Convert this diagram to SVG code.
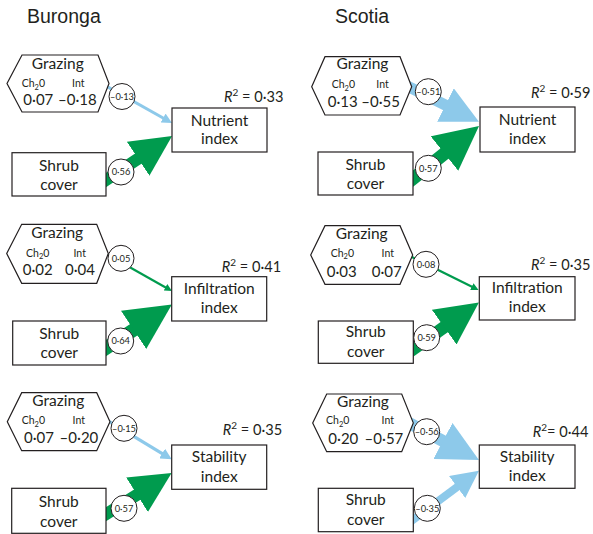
<svg xmlns="http://www.w3.org/2000/svg" width="593" height="534" viewBox="0 0 593 534">
<style>
.hex,.box{fill:#fff;stroke:#231f20;stroke-width:1.2}
.ring{fill:#fff;stroke:#231f20;stroke-width:1}
text{font-family:Lato,"Liberation Sans",sans-serif;fill:#231f20}
.lbl{font-size:15.5px;text-anchor:middle}
.num{font-size:15px}
.sm{font-size:10.5px}
.mid{text-anchor:middle}
.end{text-anchor:end}
.cv{font-size:9.3px;text-anchor:middle}
.r2{font-size:14.6px}
.title{font-family:"Liberation Sans",Arial,sans-serif;font-size:19.5px}
.pos{stroke:#009b4e;fill:none}
.neg{stroke:#8dc9ea;fill:none}
</style>
<defs>
<marker id="ag" viewBox="0 0 10 10" refX="1" refY="5" markerWidth="3.4" markerHeight="3.4" orient="auto" markerUnits="strokeWidth"><path d="M0,0L10,5L0,10z" fill="#009b4e"/></marker>
<marker id="ab" viewBox="0 0 10 10" refX="1" refY="5" markerWidth="3.4" markerHeight="3.4" orient="auto" markerUnits="strokeWidth"><path d="M0,0L10,5L0,10z" fill="#8dc9ea"/></marker>
</defs>

<text class="title" x="27" y="23">Buronga</text>
<text class="title" x="335" y="23">Scotia</text>

<g id="connectors">
<line class="neg" x1="101" y1="83.1" x2="164" y2="118.5" stroke-width="3" marker-end="url(#ab)"/>
<line class="pos" x1="100" y1="184" x2="141.5" y2="156.4" stroke-width="12" marker-end="url(#ag)"/>
<line class="neg" x1="396.6" y1="80.8" x2="448.8" y2="106.7" stroke-width="11" marker-end="url(#ab)"/>
<line class="pos" x1="405" y1="185" x2="447.9" y2="150.8" stroke-width="13" marker-end="url(#ag)"/>
<line class="pos" x1="101" y1="251" x2="166.1" y2="287.7" stroke-width="2.2" marker-end="url(#ag)"/>
<line class="pos" x1="100" y1="352" x2="137.4" y2="327.3" stroke-width="13.5" marker-end="url(#ag)"/>
<line class="pos" x1="404.8" y1="253.4" x2="472.5" y2="287" stroke-width="2.2" marker-end="url(#ag)"/>
<line class="pos" x1="405" y1="355" x2="447.7" y2="324.7" stroke-width="12.5" marker-end="url(#ag)"/>
<line class="neg" x1="103.2" y1="417.9" x2="163.1" y2="454.1" stroke-width="3.3" marker-end="url(#ab)"/>
<line class="pos" x1="100" y1="518" x2="140.5" y2="492.6" stroke-width="12" marker-end="url(#ag)"/>
<line class="neg" x1="397.7" y1="417" x2="446.5" y2="442.9" stroke-width="12" marker-end="url(#ab)"/>
<line class="neg" x1="410" y1="522" x2="459.3" y2="485.4" stroke-width="8" marker-end="url(#ab)"/>
</g>

<!-- Buronga: Nutrient -->
<g id="b-grazing-nutrient">
<polygon class="hex" points="22,55 98,55 109,83.5 98,112 22,112 7,83.5"/>
<text class="lbl" x="57.8" y="69.3">Grazing</text>
<text class="sm" x="21.7" y="87">Ch<tspan font-size="7.5" dy="2.5">2</tspan><tspan dy="-2.5">0</tspan></text>
<text class="sm mid" x="78.3" y="87">Int</text>
<text class="num" x="23.3" y="105">0·07</text>
<text class="num end" x="96.7" y="105">–0·18</text>
</g>
<g id="b-shrub-nutrient">
<rect class="box" x="12" y="152.7" width="94" height="43.3"/>
<text class="lbl" x="59" y="170.7">Shrub</text>
<text class="lbl" x="59" y="190">cover</text>
</g>
<g id="b-nutrient">
<rect class="box" x="172" y="108" width="95" height="44"/>
<text class="lbl" x="219.5" y="126">Nutrient</text>
<text class="lbl" x="219.5" y="144">index</text>
<text class="r2" x="224" y="101.7"><tspan font-style="italic">R</tspan><tspan font-size="10" dy="-6">2</tspan><tspan dy="6"> = 0·33</tspan></text>
</g>

<!-- Scotia: Nutrient -->
<g id="s-grazing-nutrient">
<polygon class="hex" points="325,56.7 400,56.7 411.7,86.7 400,115 325,115 311.7,86.7"/>
<text class="lbl" x="362.5" y="69.3">Grazing</text>
<text class="sm" x="331.7" y="88.3">Ch<tspan font-size="7.5" dy="2.5">2</tspan><tspan dy="-2.5">0</tspan></text>
<text class="sm mid" x="382.5" y="88.3">Int</text>
<text class="num" x="327.7" y="106.7">0·13</text>
<text class="num end" x="400" y="106.7">–0·55</text>
</g>
<g id="s-shrub-nutrient">
<rect class="box" x="318" y="152" width="95" height="43"/>
<text class="lbl" x="365.5" y="169.5">Shrub</text>
<text class="lbl" x="365.5" y="188.8">cover</text>
</g>
<g id="s-nutrient">
<rect class="box" x="480" y="107" width="95" height="45"/>
<text class="lbl" x="527.5" y="125.3">Nutrient</text>
<text class="lbl" x="527.5" y="143.5">index</text>
<text class="r2" x="531" y="98.3"><tspan font-style="italic">R</tspan><tspan font-size="10" dy="-6">2</tspan><tspan dy="6"> = 0·59</tspan></text>
</g>

<!-- Buronga: Infiltration -->
<g id="b-grazing-infiltration">
<polygon class="hex" points="21.7,224.3 96.7,224.3 108.3,253.5 96.7,283.3 21.7,283.3 6.7,253.5"/>
<text class="lbl" x="57.2" y="238.3">Grazing</text>
<text class="sm" x="26" y="256.7">Ch<tspan font-size="7.5" dy="2.5">2</tspan><tspan dy="-2.5">0</tspan></text>
<text class="sm mid" x="79.7" y="256.7">Int</text>
<text class="num" x="22.7" y="275">0·02</text>
<text class="num end" x="95" y="275">0·04</text>
</g>
<g id="b-shrub-infiltration">
<rect class="box" x="12.7" y="321" width="93.3" height="44"/>
<text class="lbl" x="59.3" y="338.5">Shrub</text>
<text class="lbl" x="59.3" y="357.7">cover</text>
</g>
<g id="b-infiltration">
<rect class="box" x="171.7" y="276.7" width="95" height="44.3"/>
<text class="lbl" x="219.2" y="293.5">Infiltration</text>
<text class="lbl" x="219.2" y="313">index</text>
<text class="r2" x="221.7" y="271.7"><tspan font-style="italic">R</tspan><tspan font-size="10" dy="-6">2</tspan><tspan dy="6"> = 0·41</tspan></text>
</g>

<!-- Scotia: Infiltration -->
<g id="s-grazing-infiltration">
<polygon class="hex" points="325,225.7 400,225.7 412.7,255 400,284.3 325,284.3 310.7,255"/>
<text class="lbl" x="361.7" y="239">Grazing</text>
<text class="sm" x="330.7" y="256.7">Ch<tspan font-size="7.5" dy="2.5">2</tspan><tspan dy="-2.5">0</tspan></text>
<text class="sm mid" x="387.8" y="256.7">Int</text>
<text class="num" x="326.7" y="276.7">0·03</text>
<text class="num end" x="401.7" y="276.7">0·07</text>
</g>
<g id="s-shrub-infiltration">
<rect class="box" x="318.3" y="321" width="95" height="42.3"/>
<text class="lbl" x="365.8" y="337">Shrub</text>
<text class="lbl" x="365.8" y="356.7">cover</text>
</g>
<g id="s-infiltration">
<rect class="box" x="479.3" y="276.7" width="95.7" height="43.3"/>
<text class="lbl" x="527.2" y="292.8">Infiltration</text>
<text class="lbl" x="527.2" y="312.3">index</text>
<text class="r2" x="531" y="270"><tspan font-style="italic">R</tspan><tspan font-size="10" dy="-6">2</tspan><tspan dy="6"> = 0·35</tspan></text>
</g>

<!-- Buronga: Stability -->
<g id="b-grazing-stability">
<polygon class="hex" points="21.7,392.7 96.7,392.7 110,421.7 96.7,450.7 21.7,450.7 7.3,421.7"/>
<text class="lbl" x="58.3" y="406">Grazing</text>
<text class="sm" x="21.7" y="424">Ch<tspan font-size="7.5" dy="2.5">2</tspan><tspan dy="-2.5">0</tspan></text>
<text class="sm mid" x="78.8" y="424">Int</text>
<text class="num" x="24" y="442.7">0·07</text>
<text class="num end" x="98.3" y="442.7">–0·20</text>
</g>
<g id="b-shrub-stability">
<rect class="box" x="11.7" y="488.3" width="94.3" height="45"/>
<text class="lbl" x="58.8" y="506.7">Shrub</text>
<text class="lbl" x="58.8" y="526.5">cover</text>
</g>
<g id="b-stability">
<rect class="box" x="171.7" y="445" width="95" height="44.3"/>
<text class="lbl" x="219.2" y="461.7">Stability</text>
<text class="lbl" x="219.2" y="481.5">index</text>
<text class="r2" x="222.7" y="435"><tspan font-style="italic">R</tspan><tspan font-size="10" dy="-6">2</tspan><tspan dy="6"> = 0·35</tspan></text>
</g>

<!-- Scotia: Stability -->
<g id="s-grazing-stability">
<polygon class="hex" points="326.7,394 401.7,394 413.3,422.9 401.7,451.7 326.7,451.7 312.7,422.9"/>
<text class="lbl" x="363" y="406.7">Grazing</text>
<text class="sm" x="326" y="424">Ch<tspan font-size="7.5" dy="2.5">2</tspan><tspan dy="-2.5">0</tspan></text>
<text class="sm mid" x="387.8" y="424">Int</text>
<text class="num" x="328.3" y="444">0·20</text>
<text class="num end" x="403.3" y="444">–0·57</text>
</g>
<g id="s-shrub-stability">
<rect class="box" x="318.3" y="488.3" width="95" height="43.4"/>
<text class="lbl" x="365.8" y="505.3">Shrub</text>
<text class="lbl" x="365.8" y="525">cover</text>
</g>
<g id="s-stability">
<rect class="box" x="479.3" y="445" width="95.7" height="43.3"/>
<text class="lbl" x="527.2" y="461.7">Stability</text>
<text class="lbl" x="527.2" y="480.8">index</text>
<text class="r2" x="532.7" y="436.7"><tspan font-style="italic">R</tspan><tspan font-size="10" dy="-6">2</tspan><tspan dy="6">= 0·44</tspan></text>
</g>

<g id="path-coefficients">
<circle class="ring" cx="122" cy="96.5" r="13"/><text class="cv" x="122" y="99.7">–0·13</text>
<circle class="ring" cx="121" cy="172" r="13"/><text class="cv" x="121" y="175.2">0·56</text>
<circle class="ring" cx="428.3" cy="91.7" r="13"/><text class="cv" x="428.3" y="94.9">–0·51</text>
<circle class="ring" cx="428.3" cy="168.3" r="13"/><text class="cv" x="428.3" y="171.5">0·57</text>
<circle class="ring" cx="121" cy="258.3" r="13"/><text class="cv" x="121" y="261.5">0·05</text>
<circle class="ring" cx="120.7" cy="341" r="13"/><text class="cv" x="120.7" y="344.2">0·64</text>
<circle class="ring" cx="426" cy="264.3" r="13"/><text class="cv" x="426" y="267.5">0·08</text>
<circle class="ring" cx="426.7" cy="337.7" r="13"/><text class="cv" x="426.7" y="340.9">0·59</text>
<circle class="ring" cx="124" cy="428.3" r="13"/><text class="cv" x="124" y="431.5">–0·15</text>
<circle class="ring" cx="124" cy="508.3" r="13"/><text class="cv" x="124" y="511.5">0·57</text>
<circle class="ring" cx="426.7" cy="431.7" r="13"/><text class="cv" x="426.7" y="434.9">–0·56</text>
<circle class="ring" cx="427.3" cy="508.3" r="13"/><text class="cv" x="427.3" y="511.5">–0·35</text>
</g>
</svg>
